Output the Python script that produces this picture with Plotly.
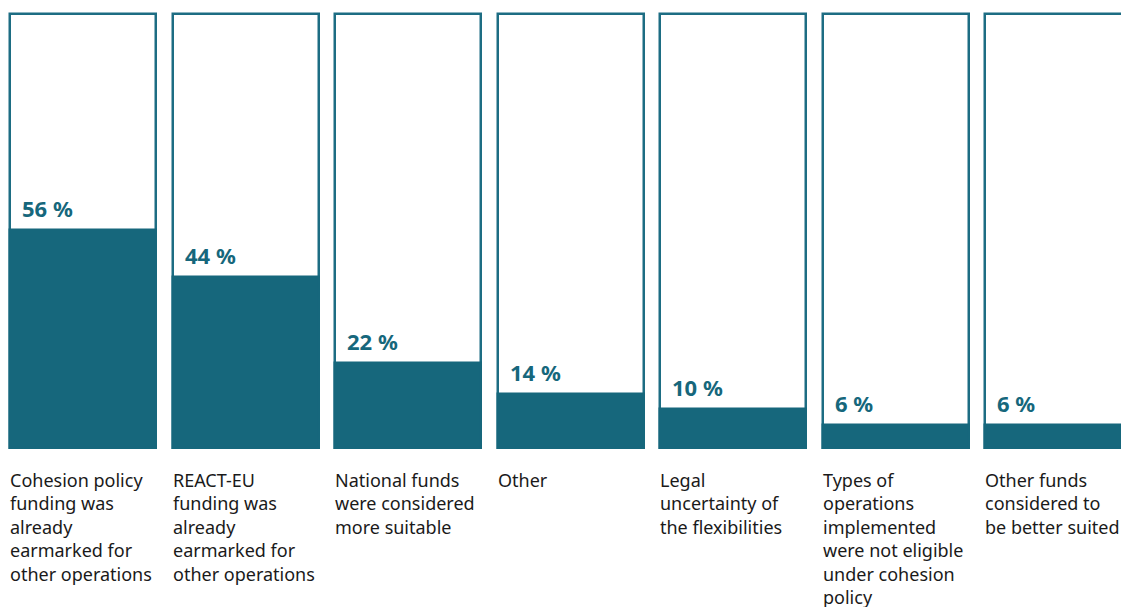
import plotly.graph_objects as go

categories = [
    "Cohesion policy<br>funding was<br>already<br>earmarked for<br>other operations",
    "REACT-EU<br>funding was<br>already<br>earmarked for<br>other operations",
    "National funds<br>were considered<br>more suitable",
    "Other",
    "Legal<br>uncertainty of<br>the flexibilities",
    "Types of<br>operations<br>implemented<br>were not eligible<br>under cohesion<br>policy",
    "Other funds<br>considered to<br>be better suited",
]
values = [56, 44, 22, 14, 10, 6, 6]
value_labels = ["56 %", "44 %", "22 %", "14 %", "10 %", "6 %", "6 %"]

TEAL = "#16677c"
LINE = "#1d6d83"
BOX_TOP = 111.4
BAR_W = 0.898

x = list(range(len(values)))

fig = go.Figure()
fig.add_trace(go.Bar(
    x=x, y=[BOX_TOP] * len(values), width=BAR_W,
    marker=dict(color="white", line=dict(color=LINE, width=2.5)),
    hoverinfo="skip", showlegend=False,
))
fig.add_trace(go.Bar(
    x=x, y=values, width=BAR_W,
    marker=dict(color=TEAL, line=dict(color=TEAL, width=2.5)),
    hoverinfo="skip", showlegend=False,
))

for i, (v, lab, cat) in enumerate(zip(values, value_labels, categories)):
    fig.add_annotation(
        x=i - BAR_W / 2, y=v, text=f"<b>{lab}</b>", showarrow=False,
        xanchor="left", yanchor="bottom", xshift=10, yshift=5,
        font=dict(family="Noto Sans", size=22, color=TEAL),
    )
    fig.add_annotation(
        x=i - BAR_W / 2, y=0, text=cat, showarrow=False, align="left",
        xanchor="left", yanchor="top", xshift=-2, yshift=-18,
        font=dict(family="Noto Sans", size=18, color="#1a1a1a"),
    )

fig.update_layout(
    width=1121, height=607,
    margin=dict(l=0, r=0, t=0, b=0),
    paper_bgcolor="white", plot_bgcolor="white",
    barmode="overlay", bargap=0,
    xaxis=dict(range=[-0.511, 6.387], visible=False, fixedrange=True),
    yaxis=dict(range=[-40.67, 114.97], visible=False, fixedrange=True),
)

fig.write_html("out.html")
